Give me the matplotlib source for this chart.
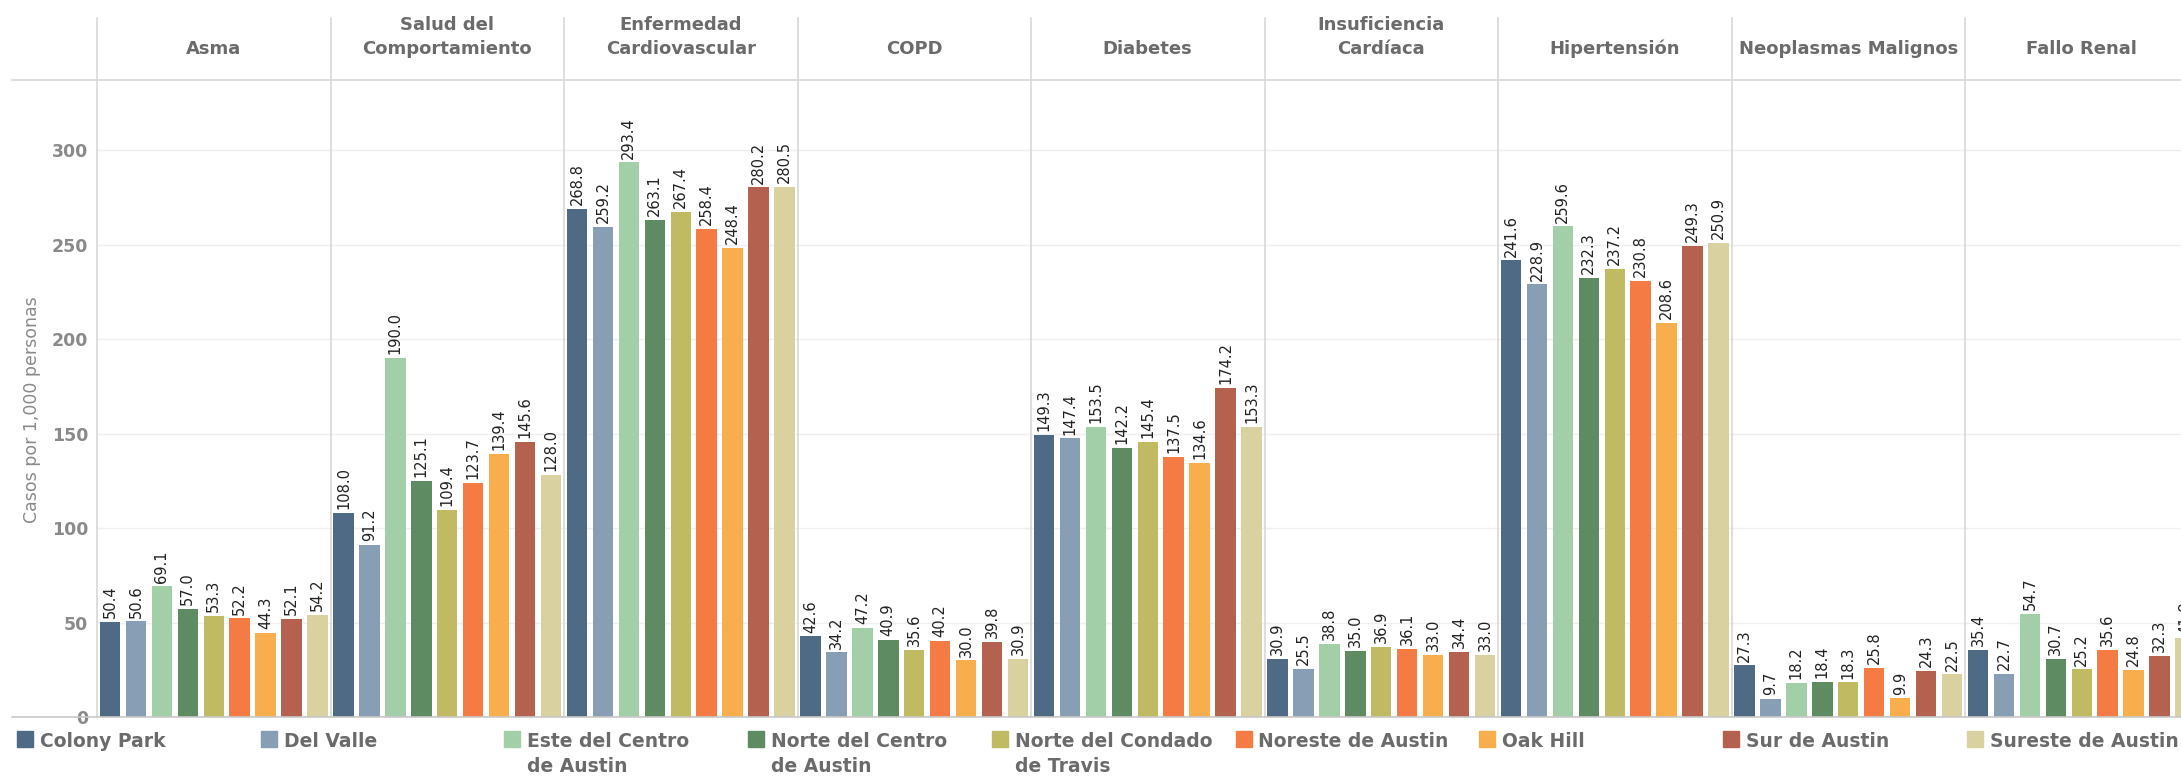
import matplotlib
matplotlib.use("Agg")
import matplotlib.pyplot as plt
from matplotlib.lines import Line2D
from matplotlib.patches import Rectangle

categories = ["Asma", "Salud del\nComportamiento", "Enfermedad\nCardiovascular", "COPD",
              "Diabetes", "Insuficiencia\nCardíaca", "Hipertensión",
              "Neoplasmas Malignos", "Fallo Renal"]
series = ["Colony Park", "Del Valle", "Este del Centro\nde Austin", "Norte del Centro\nde Austin",
          "Norte del Condado\nde Travis", "Noreste de Austin", "Oak Hill", "Sur de Austin",
          "Sureste de Austin"]
colors = ["#4f6a84", "#879eb4", "#a3cfa8", "#5f8b63", "#c0bb62", "#f47b43", "#f9ae4d",
          "#b46150", "#d9d1a0"]

asma = [50.4, 50.6, 69.1, 57.0, 53.3, 52.2, 44.3, 52.1, 54.2]
salud = [108.0, 91.2, 190.0, 125.1, 109.4, 123.7, 139.4, 145.6, 128.0]
cardio = [268.8, 259.2, 293.4, 263.1, 267.4, 258.4, 248.4, 280.2, 280.5]
copd = [42.6, 34.2, 47.2, 40.9, 35.6, 40.2, 30.0, 39.8, 30.9]
diabetes = [149.3, 147.4, 153.5, 142.2, 145.4, 137.5, 134.6, 174.2, 153.3]
insuf = [30.9, 25.5, 38.8, 35.0, 36.9, 36.1, 33.0, 34.4, 33.0]
hiper = [241.6, 228.9, 259.6, 232.3, 237.2, 230.8, 208.6, 249.3, 250.9]
neopl = [27.3, 9.7, 18.2, 18.4, 18.3, 25.8, 9.9, 24.3, 22.5]
renal = [35.4, 22.7, 54.7, 30.7, 25.2, 35.6, 24.8, 32.3, 41.8]
values = [asma, salud, cardio, copd, diabetes, insuf, hiper, neopl, renal]

yticks = [0, 50, 100, 150, 200, 250, 300]
ylabel = "Casos por 1,000 personas"

W, H = 2181, 776
fig = plt.figure(figsize=(W / 100, H / 100), dpi=100)

def fx(px):
    return px / W

def fy(py):
    return (H - py) / H

left0 = 97.0
pw = 233.5
base_y = 717.0
top_y = 80.0
ymax = (base_y - top_y) / 1.89

sep_col = "#d8d8d8"
header_col = "#6b6b6b"

for i, (cat, vals) in enumerate(zip(categories, values)):
    ax = fig.add_axes([fx(left0 + i * pw), fy(base_y), fx(pw), (base_y - top_y) / H])
    xs = list(range(len(vals)))
    ax.bar(xs, vals, width=0.79, color=colors, zorder=2)
    for x, v in zip(xs, vals):
        ax.text(x, v + 2, f"{v:.1f}", rotation=90, ha="center", va="bottom",
                fontsize=10.5, color="#222222", family="DejaVu Sans", zorder=3)
    ax.set_xlim(-0.5, 8.5)
    ax.set_ylim(0, ymax)
    ax.set_yticks(yticks)
    ax.set_xticks([])
    for s in ax.spines.values():
        s.set_visible(False)
    ax.grid(axis="y", color="#efefef", lw=1, zorder=0)
    ax.tick_params(axis="y", length=0)
    if i == 0:
        ax.set_yticklabels([str(t) for t in yticks], fontsize=12.5, fontweight="bold",
                           color="#8a8a8a", family="DejaVu Sans")
        ax.tick_params(axis="y", pad=6.5)
    else:
        ax.set_yticklabels([])
    ax.patch.set_alpha(0)
    # header title (last line baseline aligned)
    cx = fx(left0 + (i + 0.5) * pw)
    fig.text(cx, fy(54), cat, ha="center", va="baseline", fontsize=13, fontweight="bold",
             color=header_col, family="DejaVu Sans", linespacing=1.45)

# separators
for i in range(10):
    x = fx(left0 + i * pw)
    fig.add_artist(Line2D([x, x], [fy(18), fy(base_y)], color=sep_col, lw=1.2))
# header line and baseline
fig.add_artist(Line2D([fx(12), 1], [fy(top_y), fy(top_y)], color=sep_col, lw=1.2))
fig.add_artist(Line2D([fx(12), 1], [fy(base_y), fy(base_y)], color="#c8c8c8", lw=1.2))

# y axis title
fig.text(fx(32), fy(410), ylabel, rotation=90, ha="center", va="center",
         fontsize=12.5, color="#8a8a8a", family="DejaVu Sans")

# legend
for i, (name, c) in enumerate(zip(series, colors)):
    x0 = 17 + i * 243.7
    fig.add_artist(Rectangle((fx(x0), fy(747)), fx(16), 16 / H, color=c,
                             transform=fig.transFigure))
    by = 772 if "\n" in name else 747
    fig.text(fx(x0 + 23), fy(by), name, ha="left", va="baseline", fontsize=13.5,
             fontweight="bold", color="#6b6b6b", family="DejaVu Sans", linespacing=1.42)

fig.savefig("out.png", dpi=100)
